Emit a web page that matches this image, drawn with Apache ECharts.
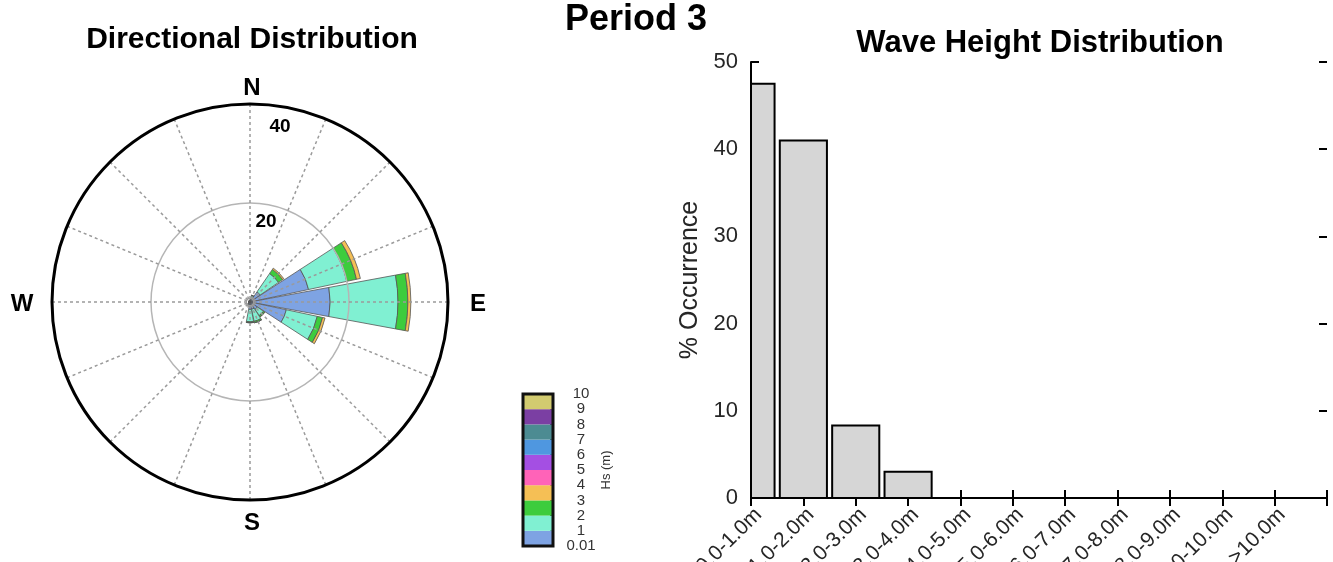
<!DOCTYPE html>
<html><head><meta charset="utf-8">
<script src="https://cdn.jsdelivr.net/npm/echarts@6/dist/echarts.min.js"></script>
<style>html,body{margin:0;padding:0;background:#fff}#c{width:1333px;height:562px}</style>
</head><body><div id="c"></div>
<script>
// ---- Wind rose data (percent of occurrence, per Hs bin, per direction) ----
const directions = ['N','NNE','NE','ENE','E','ESE','SE','SSE','S','SSW','SW','WSW','W','WNW','NW','NNW'];
const rose_0_1 = [0.3, 0.8, 2.5, 12.1, 16.2, 7.5, 1.8, 1.5, 1.5, 0.6, 0.4, 0.3, 0.3, 0.3, 0.3, 0.3];
const rose_1_2 = [0.1, 0.5, 4.5, 7.9, 13.7, 6.4, 1.5, 2.5, 2.5, 0.2, 0.1, 0, 0, 0, 0, 0];
const rose_2_3 = [0, 0.1, 1.0, 2.0, 2.0, 1.1, 0.3, 0.3, 0.2, 0, 0, 0, 0, 0, 0, 0];
const rose_3_4 = [0, 0, 0.3, 0.8, 0.6, 0.5, 0.05, 0, 0, 0, 0, 0, 0, 0, 0, 0];
const roseBins = [rose_0_1, rose_1_2, rose_2_3, rose_3_4];

// ---- Colour scale (Hs bins) ----
const colorbarLabels = ['0.01','1','2','3','4','5','6','7','8','9','10'];
const hsColors = ['#7ea3e3','#80f0d2','#3dcc3d','#f5bf55','#ff63b8','#a44fe3','#4f97e0','#4c8b92','#7b3fa3','#d2cb70'];
const colorbarSteps = [1,1,1,1,1,1,1,1,1,1];

// ---- Wave height distribution ----
const hsCategories = ['0.0-1.0m','1.0-2.0m','2.0-3.0m','3.0-4.0m','4.0-5.0m','5.0-6.0m','6.0-7.0m','7.0-8.0m','8.0-9.0m','9.0-10.0m','>10.0m'];
const occurrence = [47.5, 41.0, 8.3, 3.0, 0, 0, 0, 0, 0, 0, 0];
const yTicks = [0, 10, 20, 30, 40, 50];
const barFraction = 0.9; // bar width as a fraction of category spacing

const FONT = '"Liberation Sans", Arial, sans-serif';
const chart = echarts.init(document.getElementById('c'), null, {renderer: 'canvas'});

const roseCenter = [250, 302];
const roseRadius = 198;

const series = [];
roseBins.forEach((arr, i) => {
  series.push({
    type: 'bar', coordinateSystem: 'polar', polarIndex: 1, stack: 'rose',
    name: 'rose' + i, data: arr, barCategoryGap: '7%',
    itemStyle: {color: hsColors[i], borderColor: '#555', borderWidth: 0.8},
    silent: true, animation: false
  });
});
series.push({
  type: 'custom', xAxisIndex: 0, yAxisIndex: 0,
  data: occurrence.map((v, i) => [i + 1, v]).filter(d => d[1] > 0),
  renderItem: function (params, api) {
    const x = api.value(0), y = api.value(1);
    const base = api.coord([x, 0]);
    const top = api.coord([x, y]);
    const w = api.size([1, 0])[0] * barFraction;
    const cs = params.coordSys;
    const rect = echarts.graphic.clipRectByRect(
      {x: base[0] - w / 2, y: top[1], width: w, height: base[1] - top[1]},
      {x: cs.x, y: cs.y, width: cs.width, height: cs.height});
    if (!rect) return null;
    return {type: 'rect', shape: rect,
            style: {fill: '#d6d6d6', stroke: '#000', lineWidth: 2}};
  },
  animation: false, z: 2
});
colorbarSteps.forEach((v, i) => {
  series.push({
    type: 'bar', xAxisIndex: 2, yAxisIndex: 2, stack: 'cb', barWidth: '100%',
    data: [v], itemStyle: {color: hsColors[i]}, animation: false
  });
});

const txt = (x, y, s, size, weight, align) => ({
  type: 'text', x: x, y: y, z: 100,
  style: {text: s, font: (weight || 'normal') + ' ' + size + 'px ' + FONT, fill: '#000',
          textAlign: align || 'center', textVerticalAlign: 'middle'}
});

const option = {
  backgroundColor: '#fff',
  animation: false,
  polar: [
    {center: roseCenter, radius: roseRadius},
    {center: roseCenter, radius: roseRadius}
  ],
  angleAxis: [
    {polarIndex: 0, type: 'value', min: 0, max: 360, interval: 22.5, startAngle: 90, clockwise: true, z: 10,
     axisLine: {lineStyle: {color: '#000', width: 3}}, axisTick: {show: false}, axisLabel: {show: false},
     splitLine: {lineStyle: {color: '#9a9a9a', width: 1.5, type: [3, 3]}}},
    {polarIndex: 1, type: 'category', data: directions, startAngle: 101.25, clockwise: true, show: false}
  ],
  radiusAxis: [
    {polarIndex: 0, type: 'value', min: 0, max: 40, interval: 20, z: 10,
     axisLine: {show: false}, axisTick: {show: false}, axisLabel: {show: false},
     splitLine: {lineStyle: {color: '#b5b5b5', width: 1.5}}},
    {polarIndex: 1, type: 'value', min: 0, max: 40, show: false}
  ],
  grid: [
    {left: 751, top: 62, width: 576, height: 436, outerBoundsMode: 'none', containLabel: false},
    {left: 523, top: 394, width: 30, height: 152, outerBoundsMode: 'none', containLabel: false}
  ],
  xAxis: [
    {gridIndex: 0, type: 'value', min: 1, max: 12, interval: 1, position: 'bottom',
     axisLine: {lineStyle: {color: '#000', width: 2}},
     axisTick: {inside: true, length: 8, lineStyle: {color: '#000', width: 2}},
     splitLine: {show: false},
     axisLabel: {rotate: 45, fontSize: 21, color: '#262626', fontFamily: FONT, margin: 6,
                 align: 'right', verticalAlign: 'top', hideOverlap: false, showMinLabel: true,
                 formatter: v => hsCategories[v - 1] || ''}},
    {gridIndex: 0, type: 'value', min: 1, max: 12, interval: 1, position: 'top',
     axisLine: {lineStyle: {color: '#000', width: 2}},
     axisTick: {inside: true, length: 8, lineStyle: {color: '#000', width: 2}},
     splitLine: {show: false}, axisLabel: {show: false}},
    {gridIndex: 1, type: 'category', data: ['Hs'], show: false}
  ],
  yAxis: [
    {gridIndex: 0, type: 'value', min: yTicks[0], max: yTicks[yTicks.length - 1], interval: 10, position: 'left',
     axisLine: {show: true, lineStyle: {color: '#000', width: 2}},
     axisTick: {show: true, inside: true, length: 8, lineStyle: {color: '#000', width: 2}},
     splitLine: {show: false},
     axisLabel: {fontSize: 22, color: '#262626', fontFamily: FONT, margin: 13},
     name: '% Occurrence', nameLocation: 'middle', nameGap: 48,
     nameTextStyle: {fontSize: 25, color: '#262626', fontFamily: FONT}},
    {gridIndex: 0, type: 'value', min: yTicks[0], max: yTicks[yTicks.length - 1], interval: 10, position: 'right',
     axisLine: {show: false},
     axisTick: {show: true, inside: true, length: 8, lineStyle: {color: '#000', width: 2}},
     splitLine: {show: false}, axisLabel: {show: false}},
    {gridIndex: 1, type: 'value', min: 0, max: 10, interval: 1, position: 'right',
     axisLine: {show: false},
     axisTick: {show: true, inside: true, length: 3, lineStyle: {color: '#000', width: 2}},
     splitLine: {show: false},
     axisLabel: {fontSize: 15, color: '#333', fontFamily: FONT, margin: 28, align: 'center',
                 formatter: v => colorbarLabels[v]},
     name: 'Hs (m)', nameLocation: 'middle', nameGap: 44, nameRotate: 90,
     nameTextStyle: {fontSize: 13, color: '#333', fontFamily: FONT}}
  ],
  graphic: [
    txt(252, 40, 'Directional Distribution', 30, 'bold'),
    txt(636, 20, 'Period 3', 36, 'bold'),
    txt(1040, 43, 'Wave Height Distribution', 31, 'bold'),
    txt(252, 88, 'N', 24, 'bold'),
    txt(478, 304, 'E', 24, 'bold'),
    txt(252, 523, 'S', 24, 'bold'),
    txt(22, 304, 'W', 24, 'bold'),
    txt(280, 127, '40', 19, 'bold'),
    txt(266, 222, '20', 19, 'bold'),
    {type: 'rect', z: 100, shape: {x: 523, y: 394, width: 30, height: 152},
     style: {fill: null, stroke: '#111', lineWidth: 3}}
  ],
  series: series
};
chart.setOption(option);
</script>
</body></html>
